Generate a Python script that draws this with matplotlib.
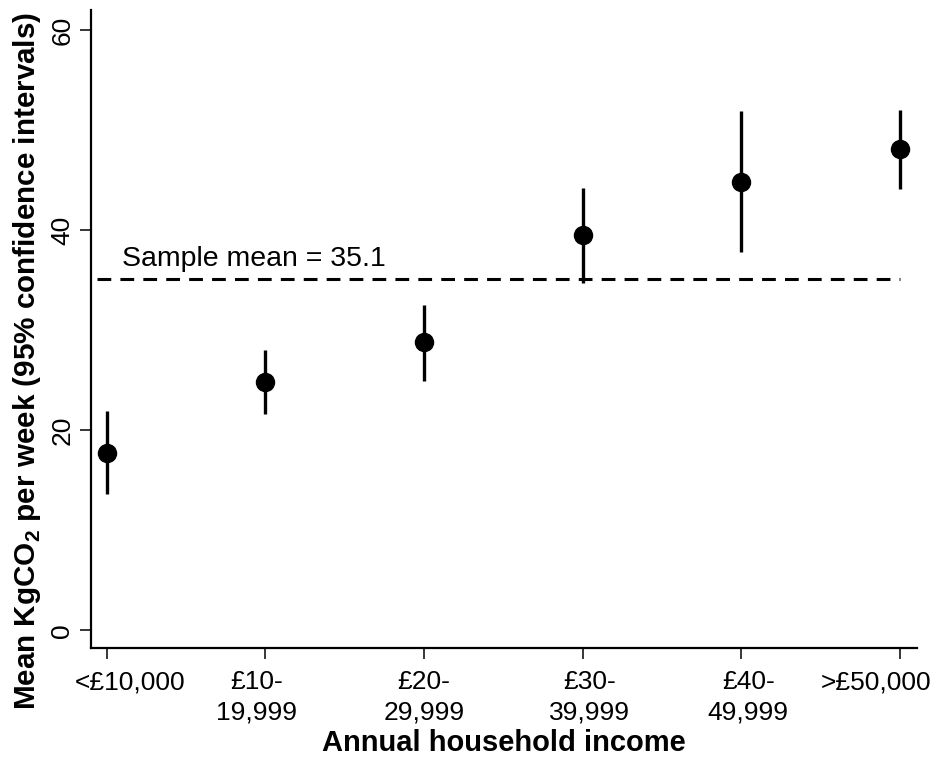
import numpy as np
import matplotlib
matplotlib.use("Agg")
import matplotlib.pyplot as plt
from matplotlib.transforms import ScaledTranslation, blended_transform_factory

plt.rcParams['font.family'] = ['Liberation Sans', 'DejaVu Sans']
plt.rcParams['mathtext.fontset'] = 'custom'
plt.rcParams['mathtext.rm'] = 'Liberation Sans'
plt.rcParams['mathtext.bf'] = 'Liberation Sans:bold'

# income bands and weekly CO2 (mean + 95% CI)
categories = ["<\u00a310,000", "\u00a310-\n19,999", "\u00a320-\n29,999",
              "\u00a330-\n39,999", "\u00a340-\n49,999", ">\u00a350,000"]
means = [17.7, 24.8, 28.8, 39.5, 44.8, 48.1]
ci_low = [13.6, 21.6, 24.9, 34.7, 37.8, 44.1]
ci_high = [21.9, 28.0, 32.5, 44.2, 51.9, 52.0]
sample_mean = 35.1

x = np.arange(len(categories))
means = np.array(means)
yerr = [means - np.array(ci_low), np.array(ci_high) - means]

fig = plt.figure(figsize=(9.37, 7.6), dpi=100)
ax = fig.add_axes([0.097, 0.147, 0.882, 0.84])

ax.hlines(sample_mean, -0.06, x[-1], colors='black', linewidth=2.2,
          linestyles=(0, (4.5, 3)))
ax.text(0.095, 36.4, "Sample mean = %.1f" % sample_mean, fontsize=20.5,
        va='baseline', ha='left')

ax.errorbar(x, means, yerr=yerr, fmt='o', color='black', markersize=13,
            elinewidth=2.4, capsize=0, zorder=3)

ax.set_xlim(-0.1, 5.11)
ax.set_ylim(-1.8, 62)
ax.set_xticks(x)
ax.set_xticklabels([])
ax.set_yticks([0, 20, 40, 60])
ax.set_yticklabels(["0", "20", "40", "60"], fontsize=19, rotation=90, va='center')

# tick labels drawn by hand: in the original they sit a little off their ticks
shifts = [23, -9, 0, 7, 7, -24]
base = blended_transform_factory(ax.transData, ax.transAxes)
for xi, lab, dx in zip(x, categories, shifts):
    tr = base + ScaledTranslation(dx / 100, -0.22, fig.dpi_scale_trans)
    ax.text(xi, 0, lab, transform=tr, ha='center', va='top', fontsize=19,
            linespacing=1.32, clip_on=False)

for s in ['top', 'right']:
    ax.spines[s].set_visible(False)
for s in ['left', 'bottom']:
    ax.spines[s].set_linewidth(1.6)
ax.tick_params(axis='both', length=8, width=1.1)
ax.tick_params(axis='y', pad=4)

ax.set_xlabel("Annual household income", fontsize=21, fontweight='bold')
ax.xaxis.set_label_coords(0.5, -0.127)
ax.set_ylabel(r"Mean KgCO$_\mathbf{2}$ per week (95% confidence intervals)",
              fontsize=21.3, fontweight='bold')
ax.yaxis.set_label_coords(-0.058, 0.45)

fig.savefig("out.png", dpi=100)
